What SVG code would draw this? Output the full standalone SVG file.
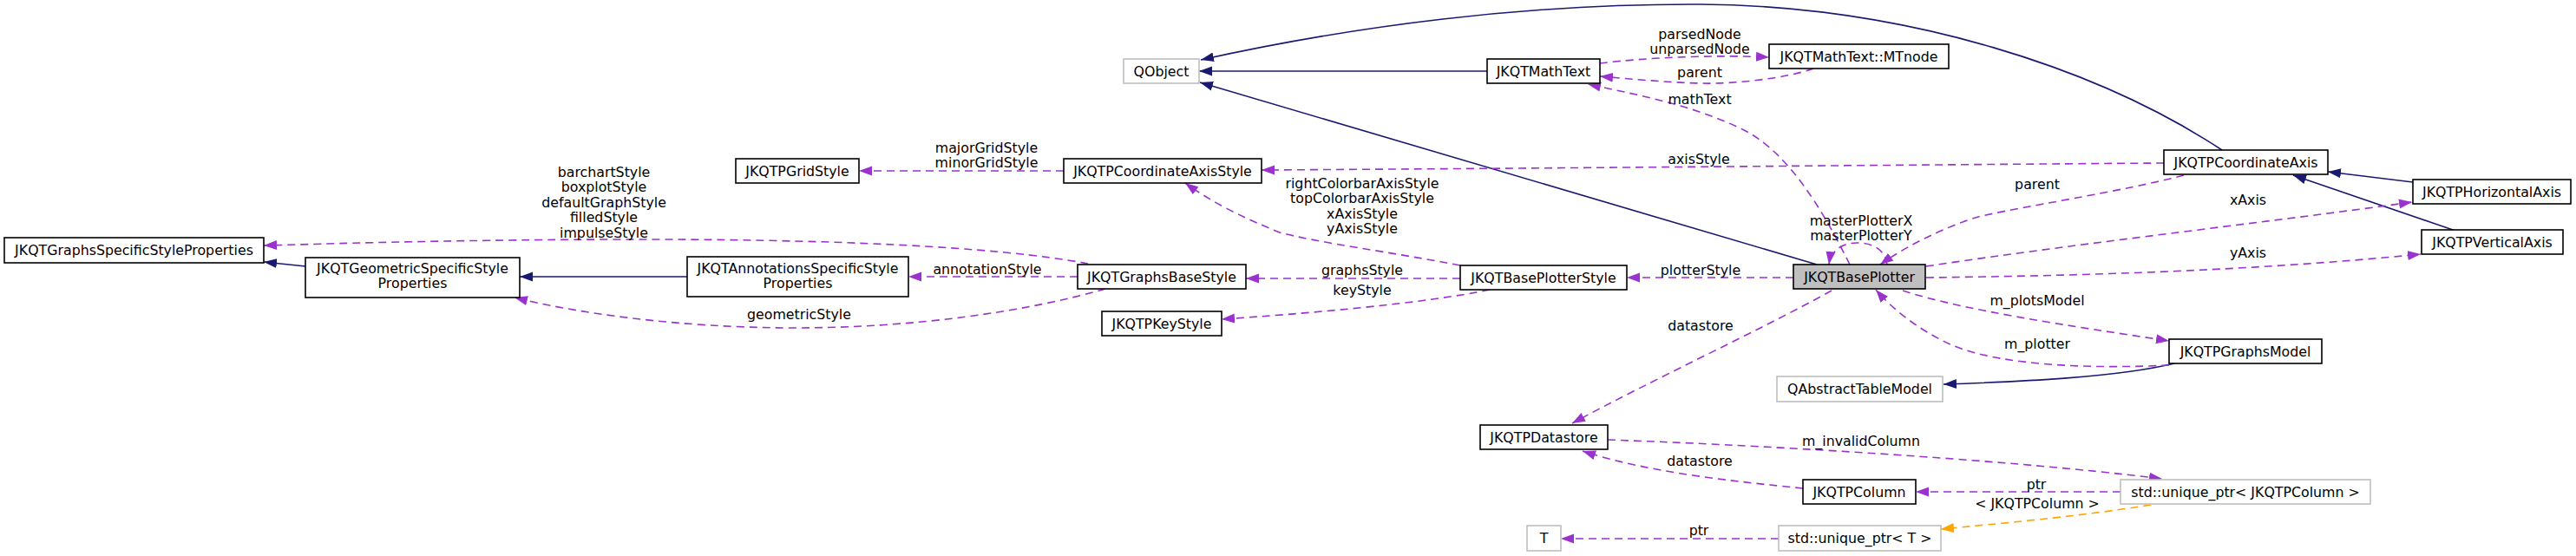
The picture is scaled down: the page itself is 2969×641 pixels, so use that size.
<svg xmlns="http://www.w3.org/2000/svg" width="2969" height="641" viewBox="0 0 2969 641">
<style>
text{font-family:"DejaVu Sans","Liberation Sans",sans-serif;font-size:15.8px;fill:#000;text-anchor:middle}
.n rect{fill:#fff;stroke:#000;stroke-width:1.6}
.g rect{fill:#fff;stroke:#bfbfbf;stroke-width:1.6}
.sel rect{fill:#bfbfbf;stroke:#000;stroke-width:1.6}
.inh{fill:none;stroke:#191970;stroke-width:1.6;marker-end:url(#an)}
.use{fill:none;stroke:#9a32cd;stroke-width:1.6;stroke-dasharray:9,6;marker-end:url(#ap)}
.tpl{fill:none;stroke:#ffa500;stroke-width:1.6;stroke-dasharray:9,6;marker-end:url(#ao)}
</style>
<defs>
<marker id="an" markerUnits="userSpaceOnUse" markerWidth="16" markerHeight="12" refX="15" refY="6" orient="auto"><path d="M0,0.5 L15,6 L0,11.5 z" fill="#191970"/></marker>
<marker id="ap" markerUnits="userSpaceOnUse" markerWidth="16" markerHeight="12" refX="15" refY="6" orient="auto"><path d="M0,0.5 L15,6 L0,11.5 z" fill="#9a32cd"/></marker>
<marker id="ao" markerUnits="userSpaceOnUse" markerWidth="16" markerHeight="12" refX="15" refY="6" orient="auto"><path d="M0,0.5 L15,6 L0,11.5 z" fill="#ffa500"/></marker>
</defs>
<rect width="2969" height="641" fill="#fff"/>
<g id="connectors">
<path class="inh" d="M352,307 L304,302"/>
<path class="inh" d="M792,319 L599,319"/>
<path class="inh" d="M1714,82 L1382,82"/>
<path class="inh" d="M2094,305 L1383,95"/>
<path class="inh" d="M2561,173 C2420,80 2200,7 1960,5 C1760,4 1560,30 1384,69"/>
<path class="inh" d="M2781,210 L2683,198"/>
<path class="inh" d="M2830,266 L2643,202"/>
<path class="inh" d="M2506,419 C2440,435 2330,440 2240,443"/>
<path class="use" d="M1226,197 L990,197"/>
<path class="use" d="M1254,304 C1150,284 950,275 700,276 C500,277 380,281 304,283"/>
<path class="use" d="M1242,319 L1047,319"/>
<path class="use" d="M1274,333 C1180,360 1050,378 916,378 C780,378 660,360 593,343"/>
<path class="use" d="M1683,306 C1600,290 1520,280 1475,268 C1430,250 1395,232 1366,211"/>
<path class="use" d="M1683,321 L1436,321"/>
<path class="use" d="M1717,334 C1640,350 1500,362 1408,368"/>
<path class="use" d="M2067,320 L1875,320"/>
<path class="use" d="M2494,188 C2200,190 1800,194 1454,196"/>
<path class="use" d="M2132,305 C2100,240 2060,175 2010,150 C1950,120 1880,108 1830,97"/>
<path class="use" d="M1844,73 C1900,66 1980,63 2039,66"/>
<path class="use" d="M2090,79 C2060,90 2000,97 1960,96 C1920,95 1880,91 1844,88"/>
<path class="use" d="M2175,305 C2172,285 2155,280 2140,280 C2122,280 2110,290 2108,305"/>
<path class="use" d="M2517,202 C2450,220 2320,240 2280,250 C2240,262 2195,285 2167,305"/>
<path class="use" d="M2220,307 C2400,280 2600,258 2780,233"/>
<path class="use" d="M2220,320 C2400,318 2600,312 2790,293"/>
<path class="use" d="M2193,335 C2260,357 2380,375 2500,393"/>
<path class="use" d="M2500,421 C2420,425 2310,423 2250,398 C2210,380 2180,355 2162,334"/>
<path class="use" d="M2111,335 C2030,380 1900,440 1812,488"/>
<path class="use" d="M1853,507 C2000,512 2300,528 2492,552"/>
<path class="use" d="M2078,563 C2000,555 1900,545 1824,520"/>
<path class="use" d="M2444,567 L2208,567"/>
<path class="tpl" d="M2479,582 C2400,595 2300,604 2237,610"/>
<path class="use" d="M2050,621 L1799,621"/>
<text x="1137" y="175.5">majorGridStyle</text>
<text x="1137" y="192.5">minorGridStyle</text>
<text x="696" y="203.5">barchartStyle</text>
<text x="696" y="221">boxplotStyle</text>
<text x="696" y="238.5">defaultGraphStyle</text>
<text x="696" y="256">filledStyle</text>
<text x="696" y="273.5">impulseStyle</text>
<text x="1138" y="315.5">annotationStyle</text>
<text x="921" y="367.5">geometricStyle</text>
<text x="1570" y="216.5">rightColorbarAxisStyle</text>
<text x="1570" y="234">topColorbarAxisStyle</text>
<text x="1570" y="251.5">xAxisStyle</text>
<text x="1570" y="269">yAxisStyle</text>
<text x="1570" y="316.5">graphsStyle</text>
<text x="1570" y="339.5">keyStyle</text>
<text x="1960" y="316.5">plotterStyle</text>
<text x="1958" y="188.5">axisStyle</text>
<text x="1959" y="44.5">parsedNode</text>
<text x="1959" y="61.5">unparsedNode</text>
<text x="1959" y="88.5">parent</text>
<text x="1959" y="119.5">mathText</text>
<text x="2348" y="217.5">parent</text>
<text x="2145" y="259.5">masterPlotterX</text>
<text x="2145" y="276.5">masterPlotterY</text>
<text x="2591" y="235.5">xAxis</text>
<text x="2591" y="296.5">yAxis</text>
<text x="2348" y="351.5">m_plotsModel</text>
<text x="2348" y="401.5">m_plotter</text>
<text x="1960" y="380.5">datastore</text>
<text x="2145" y="513.5">m_invalidColumn</text>
<text x="1959" y="536.5">datastore</text>
<text x="2347" y="563.5">ptr</text>
<text x="2348" y="585.5">&lt; JKQTPColumn &gt;</text>
<text x="1958" y="616.5">ptr</text>
</g>
<g id="JKQTGraphsSpecificStyleProperties" class="n"><rect x="5" y="274" width="299" height="29"/><text x="154.5" y="294">JKQTGraphsSpecificStyleProperties</text></g>
<g id="JKQTGeometricSpecificStyleProperties" class="n"><rect x="352" y="297" width="247" height="46"/><text x="475.5" y="314.5">JKQTGeometricSpecificStyle</text><text x="475.5" y="332">Properties</text></g>
<g id="JKQTPGridStyle" class="n"><rect x="848" y="183" width="142" height="28"/><text x="919" y="202.5">JKQTPGridStyle</text></g>
<g id="JKQTPCoordinateAxisStyle" class="n"><rect x="1226" y="183" width="228" height="28"/><text x="1340" y="202.5">JKQTPCoordinateAxisStyle</text></g>
<g id="JKQTAnnotationsSpecificStyleProperties" class="n"><rect x="792" y="296" width="255" height="46"/><text x="919.5" y="314.5">JKQTAnnotationsSpecificStyle</text><text x="919.5" y="332">Properties</text></g>
<g id="JKQTGraphsBaseStyle" class="n"><rect x="1242" y="305" width="194" height="28"/><text x="1339" y="324.5">JKQTGraphsBaseStyle</text></g>
<g id="JKQTPKeyStyle" class="n"><rect x="1270" y="359" width="138" height="28"/><text x="1339" y="378.5">JKQTPKeyStyle</text></g>
<g id="QObject" class="g"><rect x="1295" y="68" width="87" height="28"/><text x="1338.5" y="87.5">QObject</text></g>
<g id="JKQTMathText" class="n"><rect x="1714" y="68" width="130" height="28"/><text x="1779" y="87.5">JKQTMathText</text></g>
<g id="JKQTMathText_MTnode" class="n"><rect x="2039" y="51" width="207" height="28"/><text x="2142.5" y="70.5">JKQTMathText::MTnode</text></g>
<g id="JKQTPCoordinateAxis" class="n"><rect x="2494" y="173" width="189" height="28"/><text x="2588.5" y="192.5">JKQTPCoordinateAxis</text></g>
<g id="JKQTPHorizontalAxis" class="n"><rect x="2781" y="207" width="182" height="28"/><text x="2872" y="226.5">JKQTPHorizontalAxis</text></g>
<g id="JKQTPVerticalAxis" class="n"><rect x="2791" y="265" width="163" height="28"/><text x="2872.5" y="284.5">JKQTPVerticalAxis</text></g>
<g id="JKQTBasePlotter" class="sel"><rect x="2067" y="305" width="152" height="28"/><text x="2143" y="324.5">JKQTBasePlotter</text></g>
<g id="JKQTBasePlotterStyle" class="n"><rect x="1683" y="306" width="192" height="28"/><text x="1779" y="325.5">JKQTBasePlotterStyle</text></g>
<g id="JKQTPGraphsModel" class="n"><rect x="2500" y="391" width="176" height="28"/><text x="2588" y="410.5">JKQTPGraphsModel</text></g>
<g id="QAbstractTableModel" class="g"><rect x="2048" y="434" width="191" height="29"/><text x="2143.5" y="454">QAbstractTableModel</text></g>
<g id="JKQTPDatastore" class="n"><rect x="1706" y="490" width="147" height="28"/><text x="1779.5" y="509.5">JKQTPDatastore</text></g>
<g id="JKQTPColumn" class="n"><rect x="2078" y="553" width="130" height="28"/><text x="2143" y="572.5">JKQTPColumn</text></g>
<g id="unique_ptr_JKQTPColumn" class="g"><rect x="2444" y="553" width="288" height="28"/><text x="2588" y="572.5">std::unique_ptr&lt; JKQTPColumn &gt;</text></g>
<g id="T" class="g"><rect x="1760" y="606" width="39" height="29"/><text x="1779.5" y="626">T</text></g>
<g id="unique_ptr_T" class="g"><rect x="2050" y="606" width="187" height="29"/><text x="2143.5" y="626">std::unique_ptr&lt; T &gt;</text></g>
</svg>
